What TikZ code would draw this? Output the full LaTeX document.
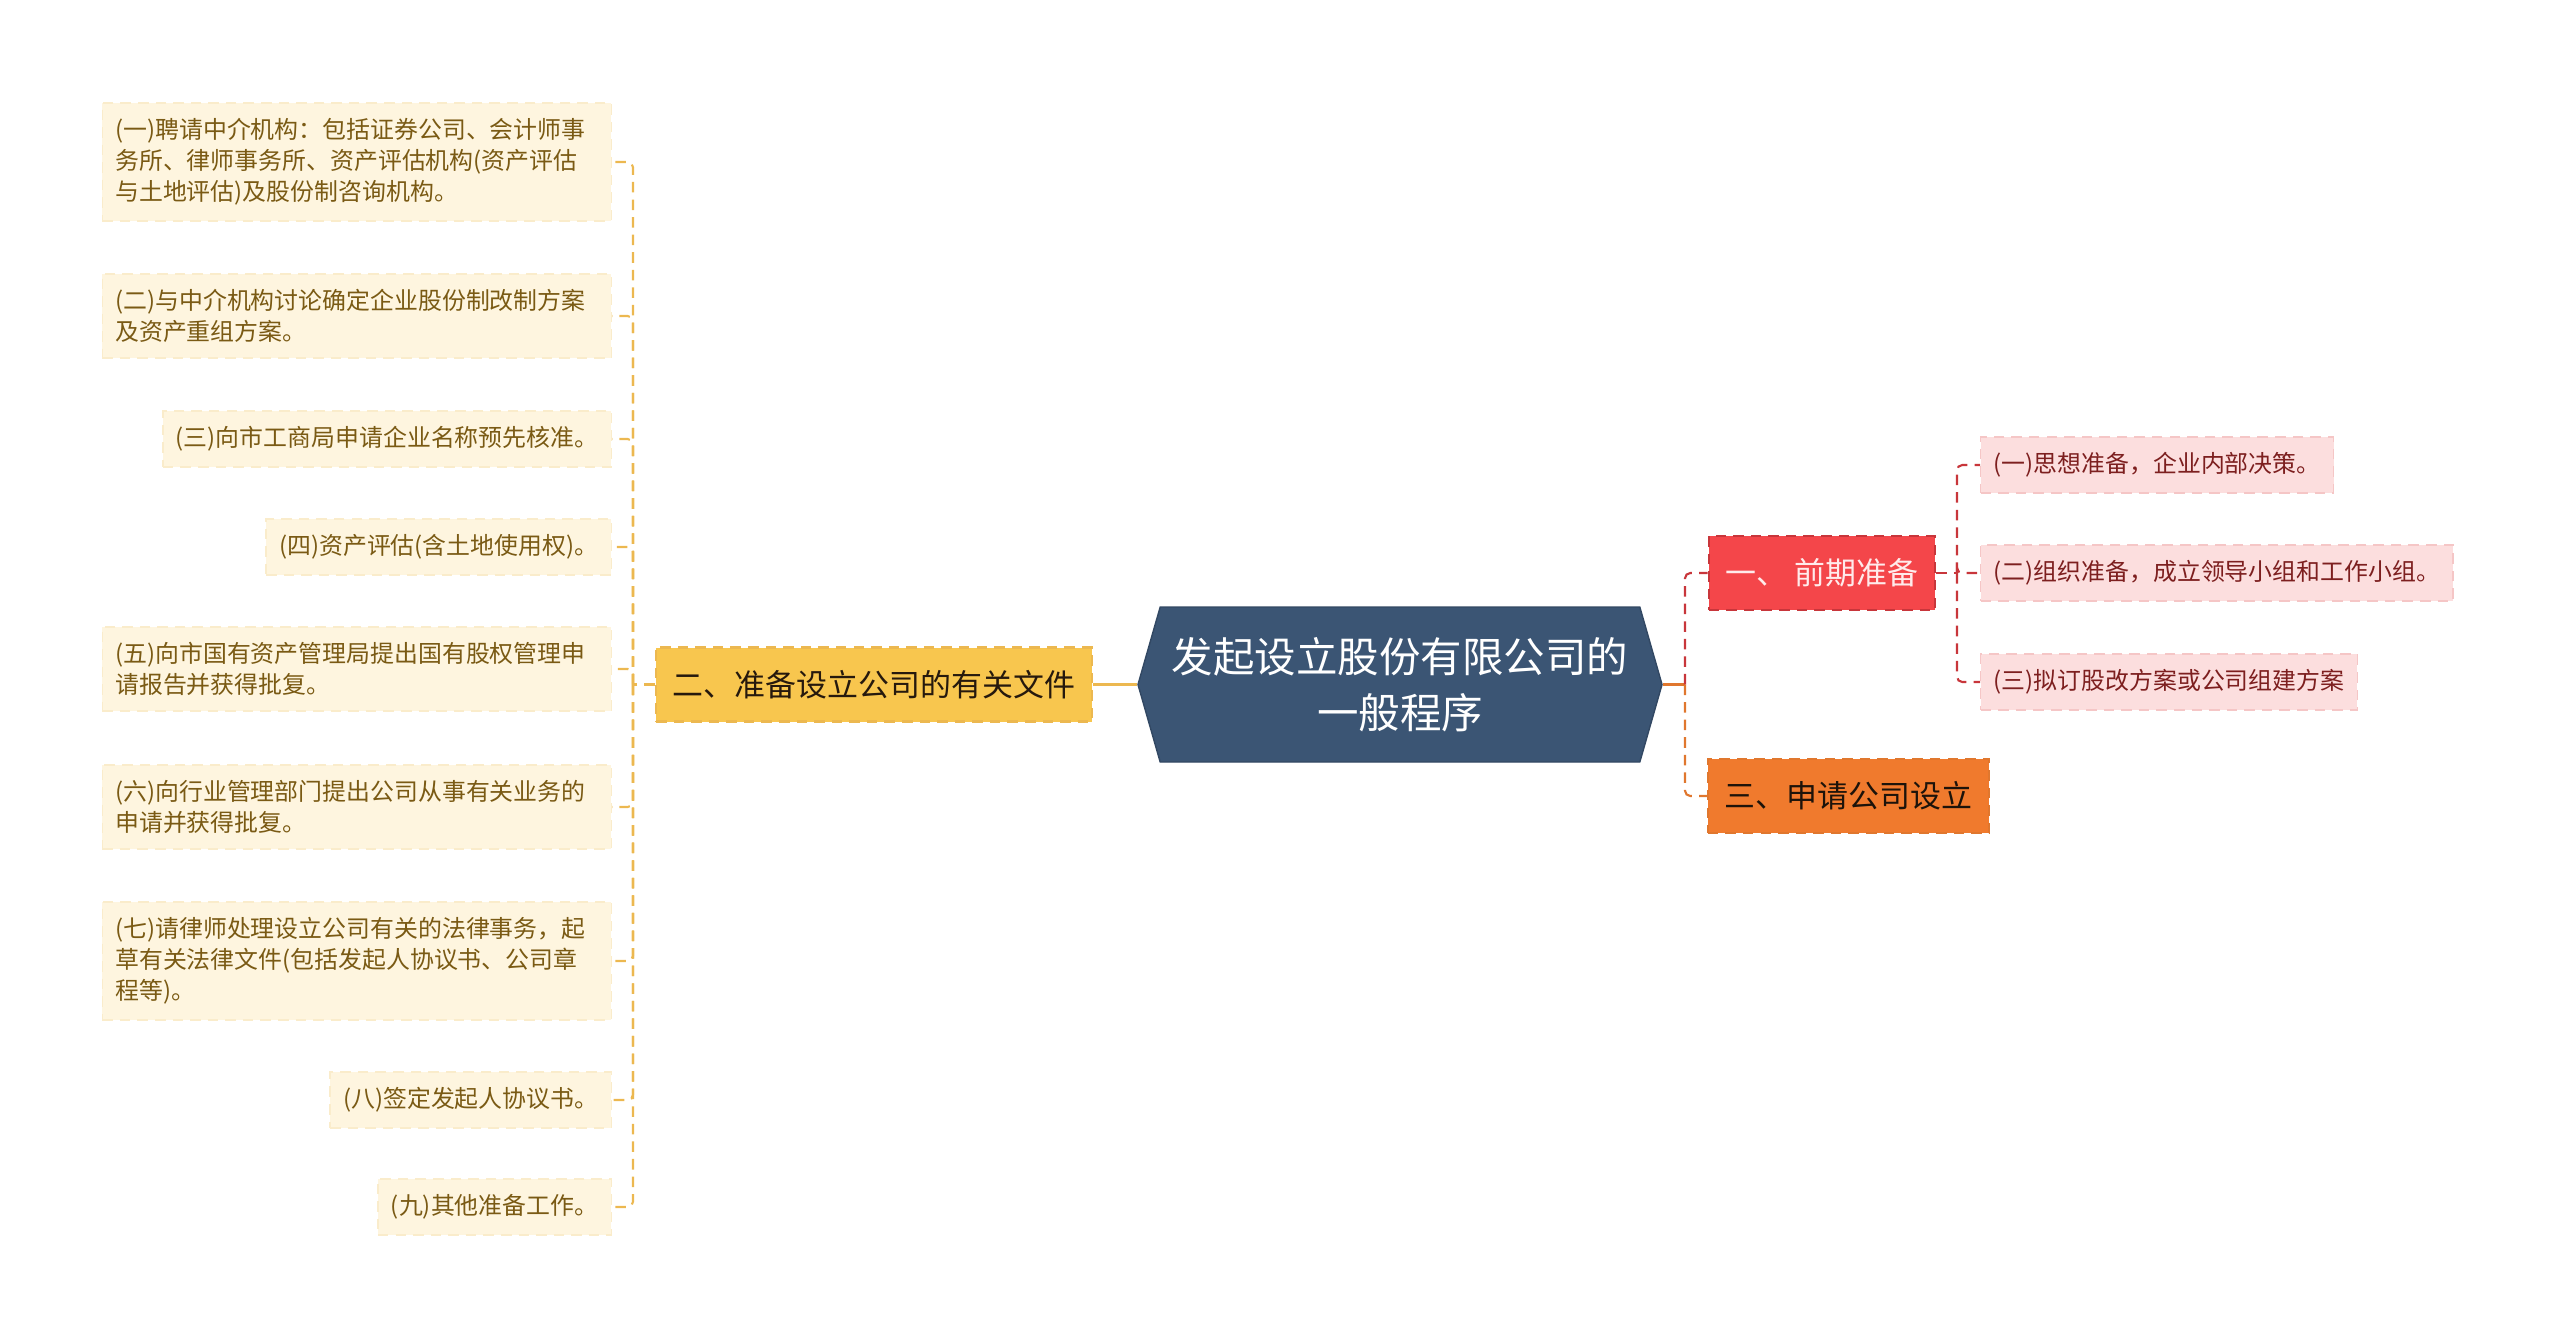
\documentclass[tikz,border=0pt]{standalone}
\usepackage{fontspec}
\newfontfamily\cjkfont{Noto Sans CJK SC}
\usetikzlibrary{positioning, shapes.symbols, calc}
\definecolor{hubblue}{HTML}{3B5574}
\definecolor{stepred}{HTML}{F4464A}
\definecolor{stepredline}{HTML}{C8363B}
\definecolor{steporange}{HTML}{F07A2D}
\definecolor{steporangeline}{HTML}{E0772E}
\definecolor{stepyellow}{HTML}{F8C64E}
\definecolor{stepyellowline}{HTML}{ECB850}
\definecolor{leafcream}{HTML}{FEF5DF}
\definecolor{leafcreamline}{HTML}{FAECCB}
\definecolor{leafbrown}{HTML}{7A5A14}
\definecolor{leafpink}{HTML}{FCDEDE}
\definecolor{leafpinkline}{HTML}{F5C6C6}
\definecolor{leafdarkred}{HTML}{7D1F1F}
\tikzset{
  topic/.style={dash pattern=on 3pt off 2pt, line width=0.6pt, minimum height=0.74cm,
                inner xsep=0.17cm, font=\cjkfont\fontsize{8.8pt}{11pt}\selectfont},
  leaf/.style={dash pattern=on 3pt off 2pt, line width=0.4pt, inner xsep=0.13cm,
               inner ysep=0.155cm, align=left, font=\cjkfont\fontsize{6.8pt}{8.8pt}\selectfont},
  goldleaf/.style={leaf, fill=leafcream, draw=leafcreamline, text=leafbrown, anchor=east},
  goldwide/.style={goldleaf, text width=4.83cm},
  pinkleaf/.style={leaf, fill=leafpink, draw=leafpinkline, text=leafdarkred, anchor=west},
  link/.style={line width=0.6pt, dash pattern=on 3pt off 2pt, rounded corners=1.5pt},
}
\begin{document}
\begin{tikzpicture}[font=\cjkfont]
  \useasboundingbox (0,0) rectangle (25.6,-13.38);

  % centre
  \node[signal, signal to=west and east, signal pointer angle=148, fill=hubblue,
        draw=hubblue!85!black, line width=0.4pt, minimum width=5.24cm, minimum height=1.55cm,
        text=white, align=center, font=\cjkfont\fontsize{11.8pt}{15.8pt}\selectfont] (hub) at (14.00,-6.845)
        {发起设立股份有限公司的\\一般程序};

  % first level
  \node[topic, fill=stepyellow, draw=stepyellowline, text=black!80!brown] (prep) at (8.74,-6.845)
        {二、准备设立公司的有关文件};
  \node[topic, fill=stepred, draw=stepredline, text=white!92!red] (early) at (18.22,-5.73)
        {一、 前期准备};
  \node[topic, fill=steporange, draw=steporangeline, text=black!85!brown] (apply) at (18.485,-7.96)
        {三、申请公司设立};

  % left leaves
  \node[goldwide] (l1) at (6.12,-1.62)
        {(一)聘请中介机构：包括证券公司、会计师事\\务所、律师事务所、资产评估机构(资产评估\\与土地评估)及股份制咨询机构。};
  \node[goldwide] (l2) at (6.12,-3.16)
        {(二)与中介机构讨论确定企业股份制改制方案\\及资产重组方案。};
  \node[goldleaf] (l3) at (6.12,-4.39) {(三)向市工商局申请企业名称预先核准。};
  \node[goldleaf] (l4) at (6.12,-5.47) {(四)资产评估(含土地使用权)。};
  \node[goldwide] (l5) at (6.12,-6.69)
        {(五)向市国有资产管理局提出国有股权管理申\\请报告并获得批复。};
  \node[goldwide] (l6) at (6.12,-8.07)
        {(六)向行业管理部门提出公司从事有关业务的\\申请并获得批复。};
  \node[goldwide] (l7) at (6.12,-9.61)
        {(七)请律师处理设立公司有关的法律事务，起\\草有关法律文件(包括发起人协议书、公司章\\程等)。};
  \node[goldleaf] (l8) at (6.12,-11.00) {(八)签定发起人协议书。};
  \node[goldleaf] (l9) at (6.12,-12.07) {(九)其他准备工作。};

  % right leaves
  \node[pinkleaf] (p1) at (19.80,-4.65) {(一)思想准备，企业内部决策。};
  \node[pinkleaf] (p2) at (19.80,-5.73) {(二)组织准备，成立领导小组和工作小组。};
  \node[pinkleaf] (p3) at (19.80,-6.82) {(三)拟订股改方案或公司组建方案};

  % connectors
  \coordinate (lbar) at (6.33,-6.845);
  \coordinate (rbar) at (16.85,-6.845);
  \coordinate (pbar) at (19.57,-5.73);
  \draw[stepyellowline, line width=0.9pt] (hub.west) -- (prep.east);
  \draw[link, stepyellowline] (prep.west) -- (lbar);
  \foreach \i in {1,...,9}
    \draw[link, stepyellowline] (lbar) |- (l\i.east);
  \draw[steporangeline, line width=0.9pt] (hub.east) -- (rbar);
  \draw[link, stepredline] (rbar) |- (early.west);
  \draw[link, steporangeline] (rbar) |- (apply.west);
  \draw[link, stepredline] (early.east) -- (pbar);
  \foreach \i in {1,2,3}
    \draw[link, stepredline] (pbar) |- (p\i.west);
\end{tikzpicture}
\end{document}
